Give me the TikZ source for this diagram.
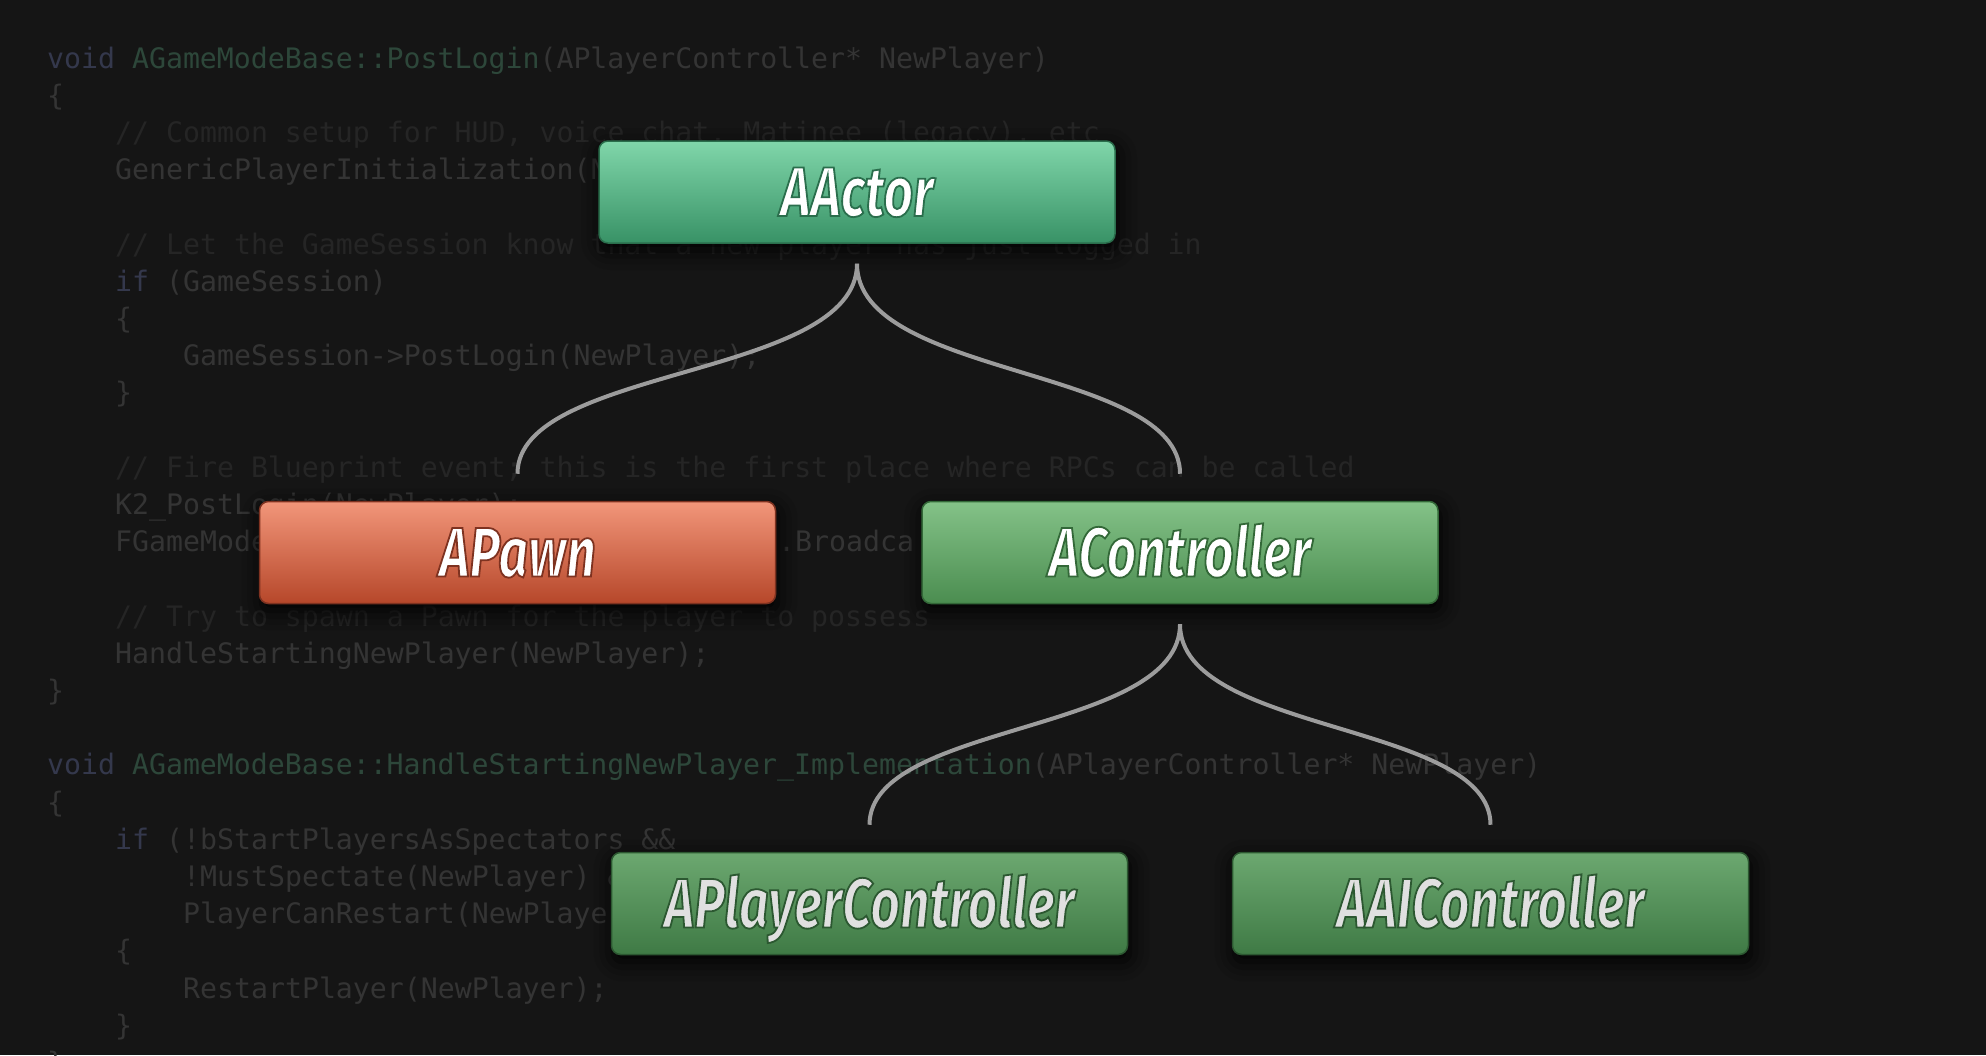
\documentclass[tikz,border=0pt]{standalone}
\usepackage{fontspec}
\usepackage{xcolor}
\usetikzlibrary{shadows,shadows.blur}

\newfontfamily\boxfont[FakeStretch=0.74]{Fira Sans}
\newfontfamily\codefont{DejaVu Sans Mono}

\definecolor{bgdark}{HTML}{151515}
\definecolor{codegray}{HTML}{343434}
\definecolor{commentgray}{HTML}{252525}
\definecolor{kwblue}{HTML}{34384C}
\definecolor{fngreen}{HTML}{2D473A}
\definecolor{linkgray}{HTML}{9C9C9C}
\definecolor{actortop}{HTML}{80D6AA}
\definecolor{actorbot}{HTML}{389266}
\definecolor{actorrim}{HTML}{2A6E4C}
\definecolor{pawntop}{HTML}{F2967A}
\definecolor{pawnbot}{HTML}{B6472A}
\definecolor{pawnrim}{HTML}{7E3220}
\definecolor{ctrltop}{HTML}{84C288}
\definecolor{ctrlbot}{HTML}{4B8D50}
\definecolor{ctrlrim}{HTML}{336838}
\definecolor{subtop}{HTML}{6CA870}
\definecolor{subbot}{HTML}{3F7A45}
\definecolor{subrim}{HTML}{2C5831}

\newcommand{\kw}[1]{\textcolor{kwblue}{#1}}
\newcommand{\fn}[1]{\textcolor{fngreen}{#1}}
\newcommand{\cm}[1]{\textcolor{commentgray}{#1}}
% outlined label: stroke colour (r g b), then the text
\newcommand{\outlined}[2]{\special{pdf:literal direct #1 RG 2 Tr 1.8 w}#2\special{pdf:literal direct 0 Tr}}

\tikzset{
    code/.style = {
        anchor    = base west,
        inner sep = 0pt,
        text      = codegray,
        font      = \codefont\fontsize{28.2}{37}\selectfont,
    },
    classbox/.style = {
        rectangle,
        rounded corners = 9pt,
        minimum width   = 516pt,
        minimum height  = 102pt,
        inner sep       = 0pt,
        line width      = 1.5pt,
        text height     = 48pt,
        text depth      = 0pt,
        text            = white,
        font            = \boxfont\bfseries\itshape\fontsize{70}{70}\selectfont,
        blur shadow     = {shadow xshift=2pt, shadow yshift=-7pt, shadow blur radius=20pt, shadow opacity=100},
    },
    actorbox/.style = {classbox, top color=actortop, bottom color=actorbot, draw=actorrim},
    pawnbox/.style  = {classbox, top color=pawntop, bottom color=pawnbot, draw=pawnrim},
    ctrlbox/.style  = {classbox, top color=ctrltop, bottom color=ctrlbot, draw=ctrlrim},
    subbox/.style   = {classbox, top color=subtop, bottom color=subbot, draw=subrim, text=white!88!black},
    branch/.style   = {draw=linkgray, line width=4pt, shorten <=20pt, shorten >=27pt},
}

\begin{document}
\begin{tikzpicture}[x=1pt,y=-1pt]
  \useasboundingbox (0,0) rectangle (1986,1055);
  \fill[bgdark] (0,0) rectangle (1986,1055);

  % Code in the background
  \node[code] (L0) at (47,68) {\kw{void} \fn{AGameModeBase::PostLogin}(APlayerController* NewPlayer)};
  \node[code] (L1) at (47,105.2) {\{};
  \node[code] (L2) at (115,142.4) {\cm{// Common setup for HUD, voice chat, Matinee (legacy), etc}};
  \node[code] (L3) at (115,179.6) {GenericPlayerInitialization(NewPlayer);};
  \node[code] (L5) at (115,254) {\cm{// Let the GameSession know that a new player has just logged in}};
  \node[code] (L6) at (115,291.2) {\kw{if} (GameSession)};
  \node[code] (L7) at (115,328.4) {\{};
  \node[code] (L8) at (183,365.6) {GameSession->PostLogin(NewPlayer);};
  \node[code] (L9) at (115,402.8) {\}};
  \node[code] (L11) at (115,477.2) {\cm{// Fire Blueprint event; this is the first place where RPCs can be called}};
  \node[code] (L12) at (115,514.4) {K2\_PostLogin(NewPlayer);};
  \node[code] (L13a) at (115,551.6) {FGameMode};
  \node[code] (L13b) at (778,551.6) {.Broadca};
  \node[code] (L15) at (115,626) {\cm{// Try to spawn a Pawn for the player to possess}};
  \node[code] (L16) at (115,663.2) {HandleStartingNewPlayer(NewPlayer);};
  \node[code] (L17) at (47,700.4) {\}};
  \node[code] (L19) at (47,774.8) {\kw{void} \fn{AGameModeBase::HandleStartingNewPlayer\_Implementation}(APlayerController* NewPlayer)};
  \node[code] (L20) at (47,812) {\{};
  \node[code] (L21) at (115,849.2) {\kw{if} (!bStartPlayersAsSpectators \&\&};
  \node[code] (L22) at (183,886.4) {!MustSpectate(NewPlayer) \&\&};
  \node[code] (L23) at (183,923.6) {PlayerCanRestart(NewPlayer))};
  \node[code] (L24) at (115,960.8) {\{};
  \node[code] (L25) at (183,998) {RestartPlayer(NewPlayer);};
  \node[code] (L26) at (115,1035.2) {\}};
  \node[code] (L27) at (47,1072.4) {\}};

  % Class tree
  \node[actorbox] (AActor) at (857,192) {\outlined{0.165 0.431 0.298}{AActor}};
  \node[pawnbox] (APawn) at (517.5,552.5) {\outlined{0.494 0.196 0.125}{APawn}};
  \node[ctrlbox] (AController) at (1180,552.5) {\outlined{0.2 0.408 0.22}{AController}};
  \node[subbox] (APlayerController) at (869.5,903.5) {\outlined{0.173 0.345 0.192}{APlayerController}};
  \node[subbox] (AAIController) at (1490.5,903.5) {\outlined{0.173 0.345 0.192}{AAIController}};

  \draw[branch] (AActor.south) .. controls +(0,135) and +(0,-135) .. (APawn.north);
  \draw[branch] (AActor.south) .. controls +(0,135) and +(0,-135) .. (AController.north);
  \draw[branch] (AController.south) .. controls +(0,130) and +(0,-130) .. (APlayerController.north);
  \draw[branch] (AController.south) .. controls +(0,130) and +(0,-130) .. (AAIController.north);

\end{tikzpicture}
\end{document}
